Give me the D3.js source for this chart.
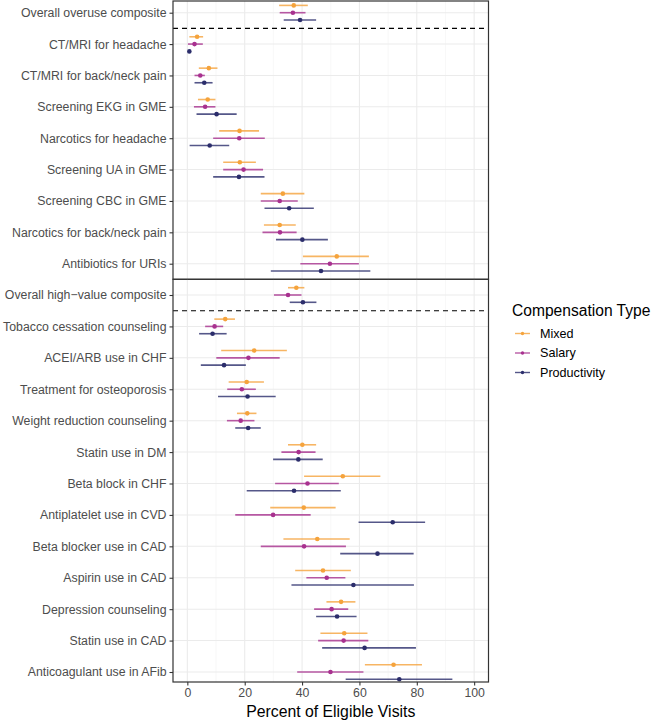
<!DOCTYPE html>
<html>
<head>
<meta charset="utf-8">
<script src="https://cdn.jsdelivr.net/npm/d3@7"></script>
<style>
  html, body { margin: 0; padding: 0; background: #fff; }
  svg { display: block; font-family: "Liberation Sans", Arial, Helvetica, sans-serif; }
</style>
</head>
<body>
<svg id="chart" width="654" height="722"></svg>
<script>
// ---------------- DATA ----------------
const compTypes = ["Mixed", "Salary", "Productivity"];
const compColors = ["#F5A33C", "#A8318F", "#2B2D6B"];

const overuseCategories = [
  "Overall overuse composite",
  "CT/MRI for headache",
  "CT/MRI for back/neck pain",
  "Screening EKG in GME",
  "Narcotics for headache",
  "Screening UA in GME",
  "Screening CBC in GME",
  "Narcotics for back/neck pain",
  "Antibiotics for URIs"
];
// [estimate, lower, upper]
const overuseMixed = [
  [37.1, 32.0, 42.0], [3.4, 0.7, 5.5], [7.5, 4.0, 10.5], [7.1, 3.7, 9.8],
  [18.2, 11.1, 25.0], [18.3, 12.5, 23.9], [33.3, 25.6, 40.8], [32.2, 26.7, 37.8],
  [52.1, 40.3, 63.3]
];
const overuseSalary = [
  [36.8, 32.2, 41.2], [2.5, 0.2, 5.4], [4.5, 2.5, 6.1], [6.2, 2.3, 9.8],
  [18.1, 9.0, 27.0], [19.6, 12.5, 26.4], [32.2, 25.6, 38.5], [32.3, 26.2, 38.1],
  [49.7, 39.4, 59.8]
];
const overuseProductivity = [
  [39.3, 33.6, 44.9], [0.7, 0.4, 1.0], [5.9, 2.5, 8.8], [10.2, 3.2, 17.2],
  [7.8, 0.8, 14.6], [18.0, 9.0, 26.9], [35.5, 26.9, 44.1], [40.1, 30.9, 49.0],
  [46.6, 29.1, 63.8]
];

const highValueCategories = [
  "Overall high\u2212value composite",
  "Tobacco cessation counseling",
  "ACEI/ARB use in CHF",
  "Treatment for osteoporosis",
  "Weight reduction counseling",
  "Statin use in DM",
  "Beta block in CHF",
  "Antiplatelet use in CVD",
  "Beta blocker use in CAD",
  "Aspirin use in CAD",
  "Depression counseling",
  "Statin use in CAD",
  "Anticoagulant use in AFib"
];
const highValueMixed = [
  [38.0, 35.1, 40.8], [13.2, 9.4, 16.6], [23.3, 11.8, 34.7], [20.7, 14.4, 26.7],
  [20.9, 17.3, 24.1], [40.1, 35.1, 44.9], [54.2, 40.7, 67.3], [40.6, 28.9, 51.7],
  [45.3, 33.5, 56.6], [47.3, 37.6, 57.0], [53.6, 48.5, 58.6], [54.7, 46.4, 62.8],
  [71.9, 61.9, 81.8]
];
const highValueSalary = [
  [35.1, 30.2, 39.8], [9.5, 6.2, 12.5], [21.3, 10.1, 32.2], [19.0, 13.9, 23.9],
  [18.6, 13.8, 23.4], [38.8, 32.8, 44.7], [41.9, 30.6, 52.8], [29.9, 16.7, 43.0],
  [40.7, 25.6, 55.3], [48.6, 41.5, 55.1], [50.3, 44.2, 56.1], [54.5, 45.6, 63.1],
  [49.9, 38.3, 61.4]
];
const highValueProductivity = [
  [40.3, 35.7, 45.0], [8.8, 4.1, 13.7], [12.8, 4.7, 20.4], [21.0, 10.7, 30.8],
  [21.2, 16.7, 25.6], [38.7, 29.9, 47.2], [37.2, 20.7, 53.5], [71.6, 59.7, 82.9],
  [66.3, 53.3, 78.9], [57.9, 36.3, 79.0], [52.2, 44.9, 59.0], [61.8, 47.0, 79.7],
  [73.9, 55.2, 92.4]
];

const xTicks = [0, 20, 40, 60, 80, 100];
const xMinorTicks = [10, 30, 50, 70, 90];
const xTitle = "Percent of Eligible Visits";
const legendTitle = "Compensation Type";

// ---------------- LAYOUT ----------------
const svg = d3.select("#chart");
const panelLeft = 173, panelRight = 488.5;
const x = d3.scaleLinear().domain([-5, 105]).range([panelLeft, panelRight]);

const panels = [
  { cats: overuseCategories, series: [overuseMixed, overuseSalary, overuseProductivity],
    top: 1, bottom: 279.3, range: [12.7, 263.7] },
  { cats: highValueCategories, series: [highValueMixed, highValueSalary, highValueProductivity],
    top: 279.3, bottom: 682, range: [295, 672] }
];
const dodge = d3.scalePoint().domain(compTypes).range([-7.3, 7.3]);
const textGrey = "#4D4D4D";
const fontSize = 12.3;

panels.forEach(p => {
  const y = d3.scalePoint().domain(p.cats).range(p.range);
  const g = svg.append("g");
  // background grid
  g.selectAll("line.minor").data(xMinorTicks).enter().append("line")
    .attr("x1", d => x(d)).attr("x2", d => x(d))
    .attr("y1", p.top).attr("y2", p.bottom)
    .attr("stroke", "#F2F2F2").attr("stroke-width", 0.55);
  g.selectAll("line.major").data(xTicks).enter().append("line")
    .attr("x1", d => x(d)).attr("x2", d => x(d))
    .attr("y1", p.top).attr("y2", p.bottom)
    .attr("stroke", "#EBEBEB").attr("stroke-width", 1.07);
  g.selectAll("line.hgrid").data(p.cats).enter().append("line")
    .attr("x1", panelLeft).attr("x2", panelRight)
    .attr("y1", d => y(d)).attr("y2", d => y(d))
    .attr("stroke", "#EBEBEB").attr("stroke-width", 1.07);

  // dashed separator between composite and items
  const sepY = (y(p.cats[0]) + y(p.cats[1])) / 2;
  g.append("line")
    .attr("x1", panelLeft).attr("x2", panelRight)
    .attr("y1", sepY).attr("y2", sepY)
    .attr("stroke", "#000").attr("stroke-width", 1.1)
    .attr("stroke-dasharray", "5,4");

  // error bars and points
  p.series.forEach((s, si) => {
    const off = dodge(compTypes[si]);
    const col = compColors[si];
    g.selectAll(null).data(s).enter().append("line")
      .attr("x1", d => x(d[1])).attr("x2", d => x(d[2]))
      .attr("y1", (d, i) => y(p.cats[i]) + off)
      .attr("y2", (d, i) => y(p.cats[i]) + off)
      .attr("stroke", col).attr("stroke-width", 1.6).attr("stroke-opacity", 0.8);
    g.selectAll(null).data(s).enter().append("circle")
      .attr("cx", d => x(d[0]))
      .attr("cy", (d, i) => y(p.cats[i]) + off)
      .attr("r", 2.3).attr("fill", col);
  });

  // panel border
  g.append("rect")
    .attr("x", panelLeft).attr("y", p.top)
    .attr("width", panelRight - panelLeft).attr("height", p.bottom - p.top)
    .attr("fill", "none").attr("stroke", "#333").attr("stroke-width", 1.2);

  // y axis
  const yAxis = d3.axisLeft(y).tickSize(3.5).tickPadding(3);
  const ya = svg.append("g").attr("transform", `translate(${panelLeft},0)`).call(yAxis);
  ya.select(".domain").remove();
  ya.selectAll(".tick line").attr("stroke", "#333").attr("stroke-width", 1.07);
  ya.selectAll(".tick text").attr("fill", textGrey)
    .style("font-size", fontSize + "px")
    .style("font-family", '"Liberation Sans", Arial, sans-serif');
});

// x axis
const xAxis = d3.axisBottom(x).tickValues(xTicks).tickSize(3.5).tickPadding(3);
const xa = svg.append("g").attr("transform", `translate(0,${panels[1].bottom})`).call(xAxis);
xa.select(".domain").remove();
xa.selectAll(".tick line").attr("stroke", "#333").attr("stroke-width", 1.07);
xa.selectAll(".tick text").attr("fill", textGrey)
  .style("font-size", fontSize + "px")
  .style("font-family", '"Liberation Sans", Arial, sans-serif');

svg.append("text")
  .attr("x", (panelLeft + panelRight) / 2).attr("y", 717)
  .attr("text-anchor", "middle")
  .style("font-size", "15.8px").attr("fill", "#000")
  .text(xTitle);

// legend
const lg = svg.append("g");
lg.append("text").attr("x", 512).attr("y", 316)
  .style("font-size", "15.6px").attr("fill", "#000").text(legendTitle);
const legY = d3.scalePoint().domain(compTypes).range([333.5, 372.5]);
compTypes.forEach((c, i) => {
  const yy = legY(c);
  lg.append("line").attr("x1", 515).attr("x2", 530).attr("y1", yy).attr("y2", yy)
    .attr("stroke", compColors[i]).attr("stroke-width", 1.4).attr("stroke-opacity", 0.8);
  lg.append("circle").attr("cx", 522.5).attr("cy", yy).attr("r", 1.7).attr("fill", compColors[i]);
  lg.append("text").attr("x", 540).attr("y", yy).attr("dy", "0.35em")
    .style("font-size", "12.6px").attr("fill", "#000").text(c);
});
</script>
</body>
</html>
